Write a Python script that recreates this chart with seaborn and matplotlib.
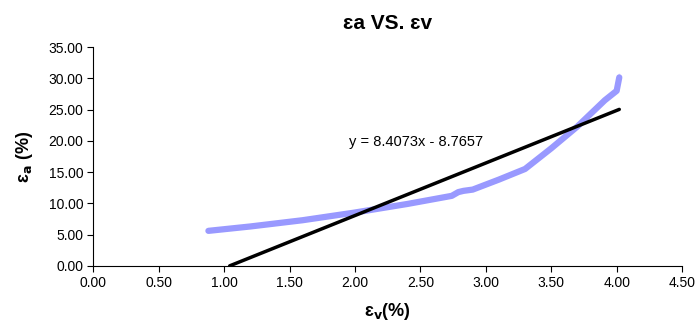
import numpy as np
import pandas as pd
import matplotlib.pyplot as plt
import seaborn as sns

# strain curve
ev = [0.88, 1.20, 1.60, 1.99, 2.40, 2.74, 2.79, 2.83, 2.90, 3.10, 3.30, 3.50, 3.70, 3.83, 3.91, 4.00, 4.02, 4.02]
ea = [5.6, 6.3, 7.3, 8.5, 9.9, 11.2, 11.8, 12.0, 12.2, 13.8, 15.5, 18.8, 22.3, 24.9, 26.5, 28.0, 29.5, 30.8]

# linear trendline
slope = 8.4073
intercept = -8.7657
fit_x = [-intercept / slope, 4.02]

df = pd.DataFrame({'ev': ev, 'ea': ea})
fit = pd.DataFrame({'ev': fit_x, 'ea': [slope * x + intercept for x in fit_x]})

sns.set_style('ticks')
plt.rcParams['font.family'] = ['Liberation Sans', 'DejaVu Sans']
for k in ['text.color', 'axes.labelcolor', 'xtick.color', 'ytick.color', 'axes.edgecolor']:
    plt.rcParams[k] = 'black'

fig = plt.figure(figsize=(6.96, 3.27), dpi=100)
ax = fig.add_axes([0.134, 0.187, 0.846, 0.669])

sns.lineplot(data=df, x='ev', y='ea', sort=False, color='#9999ff', linewidth=4.5,
             solid_capstyle='round', ax=ax)
sns.lineplot(data=fit, x='ev', y='ea', sort=False, color='black', linewidth=2.5, ax=ax)

ax.set_xlim(0, 4.5)
ax.set_ylim(0, 35)
ax.set_xticks(np.arange(0, 4.51, 0.5))
ax.set_yticks(np.arange(0, 35.1, 5))
ax.xaxis.set_major_formatter(plt.FormatStrFormatter('%.2f'))
ax.yaxis.set_major_formatter(plt.FormatStrFormatter('%.2f'))
ax.tick_params(labelsize=10, length=4, width=0.8, pad=3)
for s in ['left', 'bottom']:
    ax.spines[s].set_linewidth(0.8)
sns.despine(ax=ax)

ax.set_title('ɛa VS. ɛv', fontsize=15, fontweight='bold', pad=13)
ax.set_xlabel('ɛ$_\\mathbf{v}$(%)', fontsize=13, fontweight='bold', labelpad=8)
ax.set_ylabel('ɛ$_\\mathbf{a}$ (%)', fontsize=13, fontweight='bold', labelpad=10)
ax.text(2.47, 19.8, 'y = 8.4073x - 8.7657', fontsize=10.5, ha='center', va='center')

fig.savefig('out.png', dpi=100)
